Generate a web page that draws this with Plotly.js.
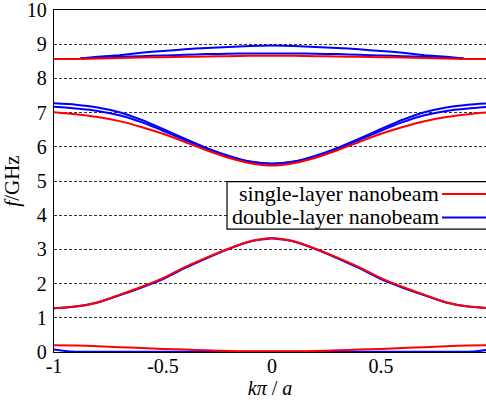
<!DOCTYPE html>
<html>
<head>
<meta charset="utf-8">
<script src="https://cdn.plot.ly/plotly-3.0.1.min.js"></script>
<style>html,body{margin:0;padding:0;background:#fff;}#chart{width:486px;height:401px;}</style>
</head>
<body>
<div id="chart"></div>
<script>
// wave vector samples (k*pi/a)
const kFull = [-1,-0.9,-0.8,-0.7,-0.6,-0.5,-0.4,-0.3,-0.2,-0.1,0,0.1,0.2,0.3,0.4,0.5,0.6,0.7,0.8,0.9,1];
const kTop  = [-0.88,-0.8,-0.7,-0.6,-0.5,-0.4,-0.3,-0.2,-0.1,0,0.1,0.2,0.3,0.4,0.5,0.6,0.7,0.8,0.88];
const kLow  = [-1,-0.95,-0.9,-0.5,0,0.5,0.9,0.95,1];

// single-layer nanobeam bands (GHz)
const single0 = [0.20,0.19,0.17,0.14,0.12,0.09,0.07,0.05,0.03,0.02,0.02,0.02,0.03,0.05,0.07,0.09,0.12,0.14,0.17,0.19,0.20];
const single1 = [1.28,1.33,1.45,1.67,1.90,2.16,2.48,2.76,3.02,3.24,3.33,3.24,3.02,2.76,2.48,2.16,1.90,1.67,1.45,1.33,1.28];
const single2 = [7.01,6.95,6.87,6.75,6.58,6.38,6.14,5.90,5.68,5.52,5.45,5.52,5.68,5.90,6.14,6.38,6.58,6.75,6.87,6.95,7.01];
const single3 = [8.57,8.57,8.58,8.60,8.61,8.62,8.63,8.64,8.65,8.66,8.66,8.66,8.65,8.64,8.63,8.62,8.61,8.60,8.58,8.57,8.57];

// double-layer nanobeam bands (GHz)
const double0  = [0.07,0.03,0.01,0.01,0.01,0.01,0.01,0.03,0.07];
const double1  = [1.28,1.33,1.45,1.66,1.88,2.13,2.45,2.74,3.01,3.23,3.32,3.23,3.01,2.74,2.45,2.13,1.88,1.66,1.45,1.33,1.28];
const double2a = [7.27,7.23,7.15,7.01,6.79,6.52,6.24,5.97,5.74,5.57,5.51,5.57,5.74,5.97,6.24,6.52,6.79,7.01,7.15,7.23,7.27];
const double2b = [7.17,7.12,7.05,6.92,6.72,6.47,6.20,5.94,5.72,5.56,5.50,5.56,5.72,5.94,6.20,6.47,6.72,6.92,7.05,7.12,7.17];
const double3a = [8.58,8.63,8.68,8.75,8.80,8.85,8.89,8.92,8.95,8.96,8.95,8.92,8.89,8.85,8.80,8.75,8.68,8.63,8.58];
const double3b = [8.58,8.60,8.63,8.65,8.67,8.69,8.71,8.72,8.73,8.73,8.73,8.72,8.71,8.69,8.67,8.65,8.63,8.60,8.58];

const yTicks = [0,1,2,3,4,5,6,7,8,9,10];
const xTicks = [-1,-0.5,0,0.5];
const xTickText = ['-1','-0.5','0','0.5'];
const legendNames = ['single-layer nanobeam','double-layer nanobeam'];

const RED = '#ff0000', BLUE = '#0000ff';
function tr(x, y, color, name, group) {
  return {x: x, y: y, type: 'scatter', mode: 'lines', name: name, legendgroup: group,
          showlegend: false, line: {color: color, width: 2, shape: 'spline', smoothing: 0.6},
          hoverinfo: 'skip'};
}
const traces = [
  tr(kLow, double0, BLUE, legendNames[1], 'd'),
  tr(kFull, double1, BLUE, legendNames[1], 'd'),
  tr(kFull, double2a, BLUE, legendNames[1], 'd'),
  tr(kFull, double2b, BLUE, legendNames[1], 'd'),
  tr(kTop, double3a, BLUE, legendNames[1], 'd'),
  tr(kTop, double3b, BLUE, legendNames[1], 'd'),
  tr(kFull, single0, RED, legendNames[0], 's'),
  tr(kFull, single1, RED, legendNames[0], 's'),
  tr(kFull, single2, RED, legendNames[0], 's'),
  tr(kFull, single3, RED, legendNames[0], 's')
];

const FONT = 'Liberation Serif';
const layout = {
  width: 486, height: 401,
  margin: {l: 54, r: 0, t: 10, b: 49},
  paper_bgcolor: '#fff', plot_bgcolor: '#fff',
  font: {family: FONT, size: 20, color: '#000'},
  showlegend: false,
  xaxis: {
    range: [-1, 0.982], tickmode: 'array', tickvals: xTicks, ticktext: xTickText,
    showgrid: false, zeroline: false, showline: true, linecolor: '#000', linewidth: 1.2,
    mirror: true, ticks: '', ticklabelstandoff: -4, ticklabeloverflow: 'allow',
    tickfont: {family: FONT, size: 20, color: '#000'},
    title: {text: '<i>kπ</i> / <i>a</i>', font: {family: FONT, size: 20, color: '#000'}, standoff: 0},
    automargin: false
  },
  yaxis: {
    range: [0, 10], tickmode: 'array', tickvals: yTicks,
    showgrid: true, gridcolor: '#333', gridwidth: 1, griddash: '3px,2px',
    zeroline: false, showline: true, linecolor: '#000', linewidth: 1.2, ticks: '',
    ticklabelstandoff: 2, ticklabeloverflow: 'allow',
    tickfont: {family: FONT, size: 20, color: '#000'},
    title: {text: '<i>f</i>/GHz', font: {family: FONT, size: 21, color: '#000'}, standoff: 6},
    automargin: false
  },
  shapes: [
    {type: 'rect', xref: 'paper', yref: 'paper', x0: 0.4005, x1: 1.02, y0: 0.359, y1: 0.498,
     fillcolor: '#fff', line: {color: '#000', width: 1.2}, layer: 'above'},
    {type: 'line', xref: 'paper', yref: 'paper', x0: 0.898, x1: 1.0, y0: 0.462, y1: 0.462,
     line: {color: RED, width: 2}, layer: 'above'},
    {type: 'line', xref: 'paper', yref: 'paper', x0: 0.898, x1: 1.0, y0: 0.393, y1: 0.393,
     line: {color: BLUE, width: 2}, layer: 'above'}
  ],
  annotations: [
    {xref: 'paper', yref: 'paper', x: 0.896, y: 0.462, xanchor: 'right', yanchor: 'middle',
     text: legendNames[0], showarrow: false, font: {family: FONT, size: 22, color: '#000'}},
    {xref: 'paper', yref: 'paper', x: 0.896, y: 0.396, xanchor: 'right', yanchor: 'middle',
     text: legendNames[1], showarrow: false, font: {family: FONT, size: 22, color: '#000'}}
  ]
};

Plotly.newPlot('chart', traces, layout, {staticPlot: true, displayModeBar: false});
</script>
</body>
</html>
